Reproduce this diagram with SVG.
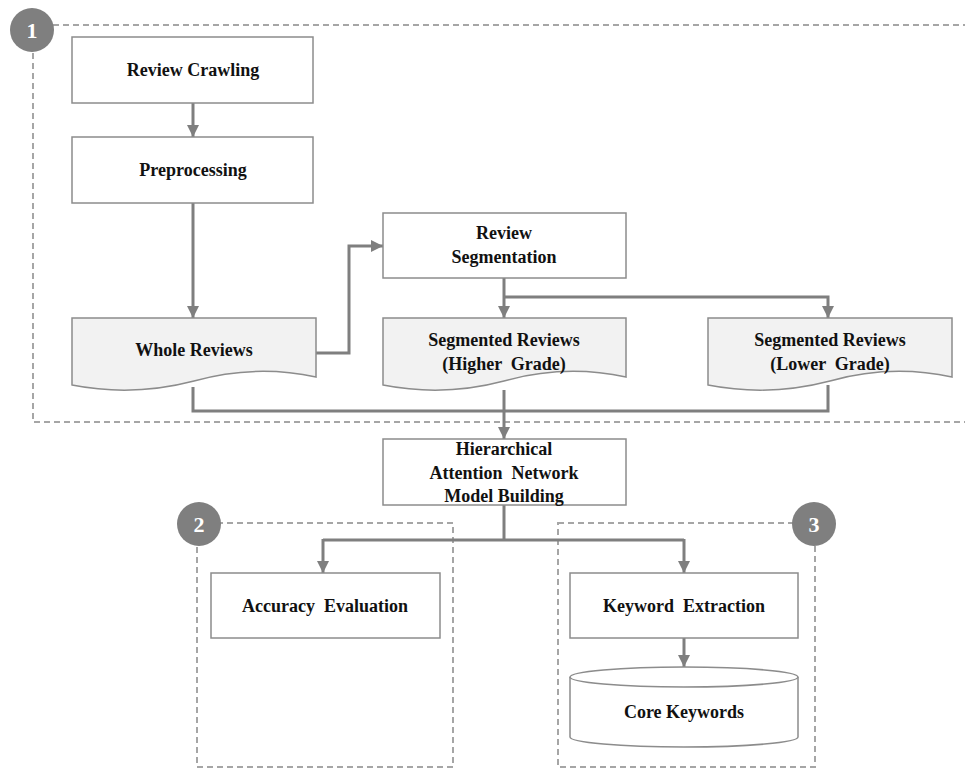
<svg xmlns="http://www.w3.org/2000/svg" width="965" height="769" viewBox="0 0 965 769">
  <style>
    .box { fill: #ffffff; stroke: #8c8c8c; stroke-width: 1.5; }
    .doc { fill: #f2f2f2; stroke: #8c8c8c; stroke-width: 1.5; }
    .frame { fill: none; stroke: #a6a6a6; stroke-width: 2; stroke-dasharray: 6 4; }
    .badge { fill: #7f7f7f; }
    .badge-text { font-family: "Liberation Serif", "Times New Roman", serif; font-weight: bold; font-size: 22px; fill: #ffffff; text-anchor: middle; }
    .label { font-family: "Liberation Serif", "Times New Roman", serif; font-weight: bold; font-size: 18px; fill: #111111; text-anchor: middle; white-space: pre; }
    .conn { fill: none; stroke: #7f7f7f; stroke-width: 3; }
  </style>
  <defs>
    <marker id="arrow" viewBox="0 0 10 10" refX="10" refY="5" markerWidth="4" markerHeight="4" orient="auto" markerUnits="strokeWidth">
      <path d="M0,0 L10,5 L0,10 Z" fill="#7f7f7f"/>
    </marker>
  </defs>

  <!-- Stage frames with numbered badges -->
  <g id="stage1">
    <rect class="frame" x="33" y="25" width="940" height="397"/>
    <circle class="badge" cx="32" cy="30" r="22"/>
    <text class="badge-text" x="32" y="38">1</text>
  </g>
  <g id="stage2">
    <rect class="frame" x="197" y="523" width="256" height="244"/>
    <circle class="badge" cx="199" cy="524" r="22"/>
    <text class="badge-text" x="199" y="532">2</text>
  </g>
  <g id="stage3">
    <rect class="frame" x="558" y="523" width="257" height="244"/>
    <circle class="badge" cx="814" cy="524" r="22"/>
    <text class="badge-text" x="814" y="532">3</text>
  </g>

  <!-- Connectors -->
  <g id="connectors">
    <path class="conn" d="M193,103 V137" marker-end="url(#arrow)"/>
    <path class="conn" d="M193,203 V318" marker-end="url(#arrow)"/>
    <path class="conn" d="M316,353 H349 V246 H383" marker-end="url(#arrow)"/>
    <path class="conn" d="M504,278 V318" marker-end="url(#arrow)"/>
    <path class="conn" d="M504,297 H828 V318" marker-end="url(#arrow)"/>
    <path class="conn" d="M193,387 V411 H828 V385"/>
    <path class="conn" d="M504,390 V439" marker-end="url(#arrow)"/>
    <path class="conn" d="M504,505 V540"/>
    <path class="conn" d="M323,540 H684"/>
    <path class="conn" d="M323,539 V573" marker-end="url(#arrow)"/>
    <path class="conn" d="M684,539 V573" marker-end="url(#arrow)"/>
    <path class="conn" d="M684,638 V667" marker-end="url(#arrow)"/>
  </g>

  <!-- Nodes -->
  <g id="review-crawling">
    <rect class="box" x="72" y="37" width="241" height="66"/>
    <text class="label" x="193" y="76">Review Crawling</text>
  </g>
  <g id="preprocessing">
    <rect class="box" x="72" y="137" width="241" height="66"/>
    <text class="label" x="193" y="176">Preprocessing</text>
  </g>
  <g id="whole-reviews">
    <path class="doc" d="M72,318 H316 V377 Q255,364 194,381 Q133,397 72,385 Z"/>
    <text class="label" x="194" y="356">Whole Reviews</text>
  </g>
  <g id="review-segmentation">
    <rect class="box" x="383" y="213" width="243" height="65"/>
    <text class="label" x="504" y="239">Review</text>
    <text class="label" x="504" y="263">Segmentation</text>
  </g>
  <g id="segmented-higher">
    <path class="doc" d="M383,318 H626 V377 Q565,364 504,381 Q444,397 383,385 Z"/>
    <text class="label" x="504" y="346">Segmented Reviews</text>
    <text class="label" x="504" y="370">(Higher  Grade)</text>
  </g>
  <g id="segmented-lower">
    <path class="doc" d="M708,318 H952 V377 Q891,364 830,381 Q769,397 708,385 Z"/>
    <text class="label" x="830" y="346">Segmented Reviews</text>
    <text class="label" x="830" y="370">(Lower  Grade)</text>
  </g>
  <g id="han-model">
    <rect class="box" x="383" y="439" width="243" height="66"/>
    <text class="label" x="504" y="455">Hierarchical</text>
    <text class="label" x="504" y="479">Attention  Network</text>
    <text class="label" x="504" y="502">Model Building</text>
  </g>
  <g id="accuracy-evaluation">
    <rect class="box" x="211" y="573" width="229" height="65"/>
    <text class="label" x="325" y="612">Accuracy  Evaluation</text>
  </g>
  <g id="keyword-extraction">
    <rect class="box" x="570" y="573" width="228" height="65"/>
    <text class="label" x="684" y="612">Keyword  Extraction</text>
  </g>
  <g id="core-keywords">
    <path class="box" d="M570,677 V737 A114,10 0 0 0 798,737 V677"/>
    <ellipse class="box" cx="684" cy="677" rx="114" ry="10"/>
    <text class="label" x="684" y="718">Core Keywords</text>
  </g>
</svg>
